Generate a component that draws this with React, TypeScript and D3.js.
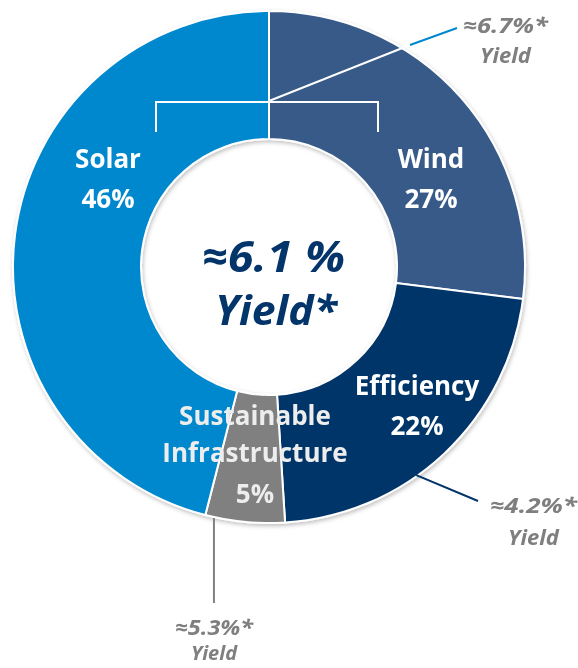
import React from "react";
import * as d3 from "d3";

const categories = ["Wind", "Efficiency", "Sustainable Infrastructure", "Solar"];
const shares = [27, 22, 5, 46];
const sliceColors = ["#385A89", "#03346A", "#808080", "#0088CE"];
const labelLines: string[][] = [["Wind"], ["Efficiency"], ["Sustainable", "Infrastructure"], ["Solar"]];
const yieldLabels = ["≈6.7%*", "≈4.2%*", "≈5.3%*", ""];
const centerYield = "≈6.1 %";

const W = 578, H = 668;
const cx = 269, cy = 267, R = 256, r0 = 128;
const FONT = "'Open Sans', 'DejaVu Sans', sans-serif";

export default function App() {
  const pie = d3.pie<number>().sort(null).value((d) => d)(shares);
  const arc = d3.arc<d3.PieArcDatum<number>>().innerRadius(r0).outerRadius(R);
  const pt = (ang: number, rad: number): [number, number] => [
    cx + rad * Math.sin(ang),
    cy - rad * Math.cos(ang),
  ];
  const labelPos: [number, number][] = [
    [431, 168],
    [417, 395],
    [255, 425],
    [108, 168],
  ];
  const labelColors = ["#fff", "#fff", "#EDEDED", "#fff"];
  const lineGaps = [[40], [40], [37, 41], [40]];
  const fs = 26;

  const effA = pie[1].startAngle + (pie[1].endAngle - pie[1].startAngle) * 0.6;
  const [ex, ey] = pt(effA, R - 1);
  const susA = pie[2].startAngle + (pie[2].endAngle - pie[2].startAngle) * 0.89;
  const [sx, sy] = pt(susA, R);

  return (
    <svg
      width={W}
      height={H}
      style={{ position: "absolute", left: 0, top: 0, background: "#fff" }}
      fontFamily={FONT}
    >
      <defs>
        <filter id="sh" x="-10%" y="-10%" width="120%" height="120%">
          <feDropShadow dx="1" dy="2" stdDeviation="2" floodColor="#000" floodOpacity="0.25" />
        </filter>
      </defs>
      <g filter="url(#sh)">
        {pie.map((p, i) => (
          <path
            key={categories[i]}
            d={arc(p) || ""}
            transform={`translate(${cx},${cy})`}
            fill={sliceColors[i]}
            stroke="#fff"
            strokeWidth={2}
          />
        ))}
      </g>
      {/* bracket over top */}
      <path d={`M156,132 V102 H378 V132`} stroke="#fff" strokeWidth={2} fill="none" />
      {/* 6.7% callout line */}
      <line x1={cx} y1={101} x2={410} y2={45} stroke="#fff" strokeWidth={2} />
      <line x1={410} y1={45} x2={457} y2={28} stroke="#0088CE" strokeWidth={2} />
      {/* efficiency callout */}
      <line x1={ex} y1={ey} x2={478} y2={501} stroke="#03346A" strokeWidth={2} />
      {/* sustainable callout */}
      <line x1={sx} y1={sy + 1} x2={sx} y2={603} stroke="#808080" strokeWidth={2} />

      {/* slice labels */}
      {labelLines.map((lines, i) => {
        const [x, y] = labelPos[i];
        const gaps = lineGaps[i];
        return (
          <text
            key={categories[i]}
            x={x}
            y={y}
            textAnchor="middle"
            fontSize={fs}
            fontWeight={700}
            fill={labelColors[i]}
          >
            {lines.map((l, j) => (
              <tspan key={j} x={x} dy={j === 0 ? 0 : gaps[0]}>
                {l}
              </tspan>
            ))}
            <tspan x={x} dy={gaps[gaps.length - 1]}>
              {shares[i] + "%"}
            </tspan>
          </text>
        );
      })}

      {/* center text */}
      <text
        x={202}
        y={272}
        fontSize={43}
        fontWeight={700}
        fontStyle="italic"
        fill="#03346A"
        textLength={143}
        lengthAdjust="spacingAndGlyphs"
      >
        {centerYield}
      </text>
      <text
        x={215}
        y={325}
        fontSize={41}
        fontWeight={700}
        fontStyle="italic"
        fill="#03346A"
        textLength={122}
        lengthAdjust="spacingAndGlyphs"
      >
        Yield*
      </text>

      {/* yield callout labels */}
      {[
        [463, 33, 63, 85, 22],
        [490, 513, 545, 87, 22],
        [175, 635, 660, 78, 20],
      ].map(([x, y1, y2, w, f2], i) => (
        <g key={i} fill="#7F7F7F" fontWeight={700} fontStyle="italic" fontSize={21}>
          <text x={x} y={y1} textLength={w} lengthAdjust="spacingAndGlyphs">
            {yieldLabels[i]}
          </text>
          <text x={x + w / 2} y={y2} textAnchor="middle" fontSize={f2}>
            Yield
          </text>
        </g>
      ))}
    </svg>
  );
}
